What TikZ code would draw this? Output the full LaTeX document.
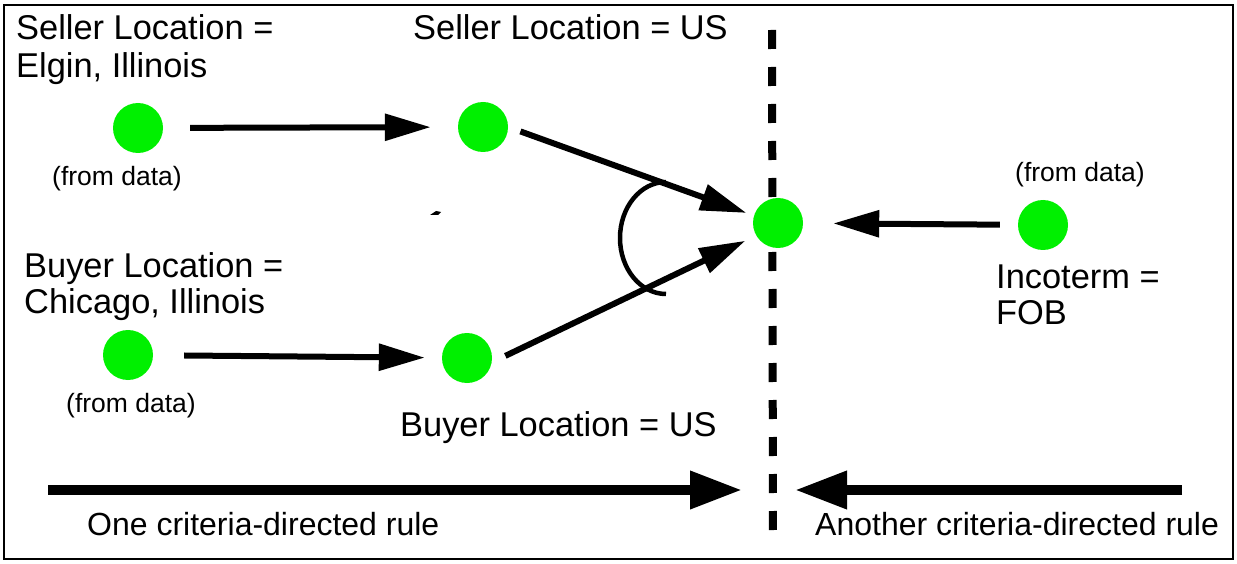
\documentclass[tikz,border=0pt]{standalone}
\usepackage{fontspec}
\setmainfont{Liberation Sans}
\usetikzlibrary{arrows.meta}
\definecolor{dotgreen}{RGB}{0,240,0}
\tikzset{
  dot/.style={circle,fill=dotgreen,minimum size=50pt,inner sep=0pt},
  biglabel/.style={font=\fontsize{34.4}{38}\selectfont,inner sep=0pt,anchor=base west},
  smalllabel/.style={font=\fontsize{26.5}{30}\selectfont,inner sep=0pt,anchor=base west},
  rulelabel/.style={font=\fontsize{32}{36}\selectfont,inner sep=0pt,anchor=base west},
  link/.style={line width=6pt,-{Triangle[length=46pt,width=26pt]}},
  rulearrow/.style={line width=10pt,-{Triangle[length=52pt,width=36pt]}},
  boundary/.style={line width=8pt,dash pattern=on 19pt off 18pt},
}
\begin{document}
\begin{tikzpicture}[x=1pt,y=-1pt]
  \useasboundingbox (0,0) rectangle (1237,564);
  % outer frame
  \draw[line width=2.5pt] (4,5) rectangle (1233,559);

  % boundary between the two rules
  \coordinate (btop) at (772,30);
  \coordinate (bbot) at (773,540);
  \draw[boundary] (btop) -- (bbot);

  % facts
  \node[dot] (s1)  at (138,128) {};
  \node[dot] (s2)  at (483,127) {};
  \node[dot] (c)   at (778,223) {};
  \node[dot] (inc) at (1043,225) {};
  \node[dot] (b1)  at (128,355) {};
  \node[dot] (b2)  at (467,358) {};

  % labels
  \node[biglabel] (s1a) at (16,40) {Seller Location =};
  \node[biglabel] (s1b) at (16,78) {Elgin, Illinois};
  \node[smalllabel] (s1d) at (52,186) {(from data)};
  \node[biglabel] (s2a) at (413,40) {Seller Location = US};
  \node[biglabel] (b1a) at (24,277) {Buyer Location =};
  \node[biglabel] (b1b) at (24,313) {Chicago, Illinois};
  \node[smalllabel] (b1d) at (66,412) {(from data)};
  \node[biglabel] (b2a) at (400,436) {Buyer Location = US};
  \node[smalllabel] (incd) at (1015,182) {(from data)};
  \node[biglabel] (inca) at (996,288) {Incoterm =};
  \node[biglabel] (incb) at (996,324) {FOB};
  \node[rulelabel] (r1) at (87,535) {One criteria-directed rule};
  \node[rulelabel] (r2) at (815,535) {Another criteria-directed rule};

  % derivations
  \draw[link,shorten <=27pt,shorten >=27pt] (s1) -- (s2);
  \draw[link,shorten <=31pt,shorten >=17pt] (b1) -- (b2);
  \draw[link,shorten <=13pt,shorten >=8pt] (s2.east) -- (c.163);
  \draw[link,shorten <=15pt,shorten >=12pt] (b2.-10) -- (c.210);
  \draw[link,shorten <=18pt,shorten >=30pt] (inc) -- (c);

  % conjunction arc joining the two inputs
  \draw[line width=4.5pt] (666,182) arc[start angle=-90,end angle=-270,x radius=46,y radius=56];

  % small stray mark
  \fill (430,215) -- (436,211) -- (441,212) -- (438,215) -- cycle;

  % rule direction arrows
  \coordinate (l0) at (48,490);
  \coordinate (l1) at (742,490);
  \coordinate (r0) at (1182,490);
  \coordinate (r1) at (795,490);
  \draw[rulearrow] (l0) -- (l1);
  \draw[rulearrow] (r0) -- (r1);
\end{tikzpicture}
\end{document}
